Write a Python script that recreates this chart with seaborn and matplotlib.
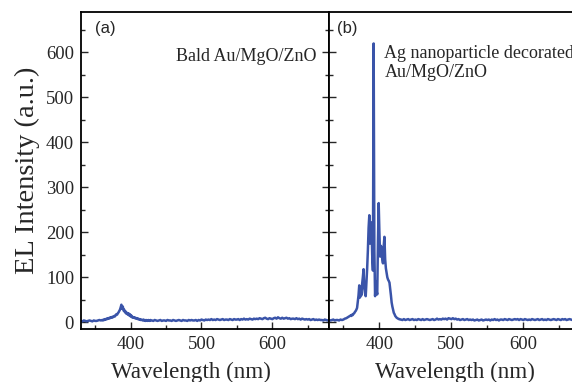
import numpy as np
import matplotlib
matplotlib.use("Agg")
import matplotlib.pyplot as plt
import seaborn as sns
from matplotlib.ticker import MultipleLocator

# ---------------- data ----------------
wavelength = np.concatenate([np.arange(330, 360, 2), np.arange(360, 430, 1), np.arange(430, 682, 2)])

bald_low = [3, 2, 4, 3, 2, 3, 4, 3, 2, 4, 3, 3, 4, 5, 4]
bald_peak = [5, 4, 6, 5, 7, 6, 8, 7, 9, 8, 10, 9, 11, 10, 12, 11, 13, 14, 13, 16,
             18, 17, 20, 22, 25, 28, 33, 39, 30, 35, 26, 28, 22, 24, 19, 21, 17, 20, 15, 18,
             13, 15, 11, 12, 10, 11, 9, 10, 8, 9, 7, 8, 6, 7, 5, 6, 5, 4, 6, 4,
             5, 3, 5, 4, 3, 5, 4, 3, 5, 4]
bald_high = [4, 3, 5, 4, 3, 4, 5, 3, 4, 4,
             3, 5, 4, 4, 3, 5, 4, 3, 4, 5,
             4, 3, 5, 4, 4, 3, 5, 4, 5, 4,
             4, 5, 3, 5, 4, 6, 5, 4, 6, 5,
             6, 5, 7, 5, 6, 5, 7, 6, 5, 6,
             7, 5, 6, 6, 5, 7, 6, 5, 7, 6,
             6, 7, 5, 7, 6, 8, 6, 7, 6, 8,
             7, 6, 8, 7, 8, 7, 9, 8, 7, 9,
             10, 8, 7, 9, 8, 7, 9, 10, 8, 11,
             9, 8, 10, 8, 9, 10, 8, 9, 7, 8,
             8, 7, 9, 7, 8, 6, 8, 7, 6, 7,
             6, 7, 5, 6, 7, 5, 6, 5, 6, 5,
             5, 4, 6, 5, 4, 5]

ag_low = [5, 4, 5, 6, 4, 5, 5, 4, 6, 5, 6, 8, 9, 11, 13]
ag_peak = [15, 14, 17, 16, 19, 20, 23, 25, 28, 32, 45, 60, 82, 55, 70, 60, 85, 100, 118, 75,
           65, 58, 90, 120, 160, 210, 238, 175, 200, 222, 150, 115, 620, 160, 58, 90, 70, 62, 180, 265,
           200, 146, 170, 165, 140, 131, 170, 190, 140, 120, 110, 100, 95, 92, 88, 75, 60, 44, 35, 28,
           21, 18, 14, 12, 10, 9, 8, 7, 7, 6]
ag_high = [6, 5, 7, 5, 6, 7, 5, 6, 7, 5,
           6, 5, 7, 6, 5, 7, 5, 6, 7, 6,
           5, 6, 7, 5, 6, 8, 6, 7, 6, 8,
           7, 8, 6, 9, 8, 7, 9, 7, 8, 6,
           7, 5, 6, 7, 5, 6, 7, 5, 6, 5,
           6, 4, 5, 6, 4, 5, 6, 4, 5, 6,
           5, 6, 4, 6, 5, 7, 5, 6, 4, 6,
           6, 5, 7, 6, 5, 7, 6, 5, 6, 7,
           6, 7, 5, 7, 6, 5, 7, 6, 5, 6,
           5, 7, 6, 5, 6, 7, 5, 6, 7, 5,
           6, 5, 7, 6, 5, 6, 7, 6, 5, 7,
           6, 5, 7, 6, 7, 5, 6, 7, 6, 5,
           6, 7, 5, 6, 7, 6]

bald = np.array(bald_low + bald_peak + bald_high)
ag = np.array(ag_low + ag_peak + ag_high)

x_ticks = [400, 500, 600]
y_ticks = [0, 100, 200, 300, 400, 500, 600]

# ---------------- style ----------------
sns.set_style("ticks")
plt.rcParams['font.family'] = ['Liberation Serif', 'DejaVu Serif']

LINE_COLOR = "#3a54a9"

fig = plt.figure(figsize=(5.72, 3.82), dpi=100)
W, H = 572, 382
ax1 = fig.add_axes([81 / W, (H - 329) / H, 248 / W, 317 / H])
ax2 = fig.add_axes([329 / W, (H - 329) / H, 252 / W, 317 / H])

sns.lineplot(x=wavelength, y=bald, ax=ax1, color=LINE_COLOR, linewidth=1.8)
sns.lineplot(x=wavelength, y=ag, ax=ax2, color=LINE_COLOR, linewidth=1.8)

for ax in (ax1, ax2):
    ax.set_xlim(330, 680)
    ax.set_ylim(-15, 690)
    ax.set_xticks(x_ticks)
    ax.set_yticks(y_ticks)
    ax.xaxis.set_minor_locator(MultipleLocator(50))
    ax.yaxis.set_minor_locator(MultipleLocator(50))
    ax.tick_params(which='both', direction='in', width=1.0, top=False, right=True,
                   labelsize=13.5, pad=5)
    ax.tick_params(which='major', length=5)
    ax.tick_params(which='minor', length=3)
    for s in ax.spines.values():
        s.set_linewidth(1.3)
        s.set_color('black')
    ax.set_xlabel("Wavelength (nm)", fontsize=16.6, labelpad=7)
    ax.set_ylabel("")

ax1.xaxis.set_label_coords((191 - 81) / 248, -33 / 317, transform=ax1.transAxes)
ax1.xaxis.label.set_va('top')
ax2.xaxis.set_label_coords(0.5, -33 / 317, transform=ax2.transAxes)
ax2.xaxis.label.set_va('top')

ax2.tick_params(labelleft=False)
ax1.set_ylabel("EL Intensity (a.u.)", fontsize=20.5, labelpad=4)

ax1.text(95 / W, 1 - 29 / H, "(a)", transform=fig.transFigure, fontsize=12,
         family=['Liberation Sans'], va='center', ha='left')
ax1.text(0.95, 0.86, "Bald Au/MgO/ZnO", transform=ax1.transAxes, ha='right', va='center', fontsize=13)
ax2.text(337 / W, 1 - 28 / H, "(b)", transform=fig.transFigure, fontsize=12,
         family=['Liberation Sans'], va='center', ha='left')
ax2.text(0.22, 0.84, "Ag nanoparticle decorated\nAu/MgO/ZnO", transform=ax2.transAxes,
         ha='left', va='center', fontsize=13, linespacing=1.15)

fig.savefig("out.png", dpi=100)
